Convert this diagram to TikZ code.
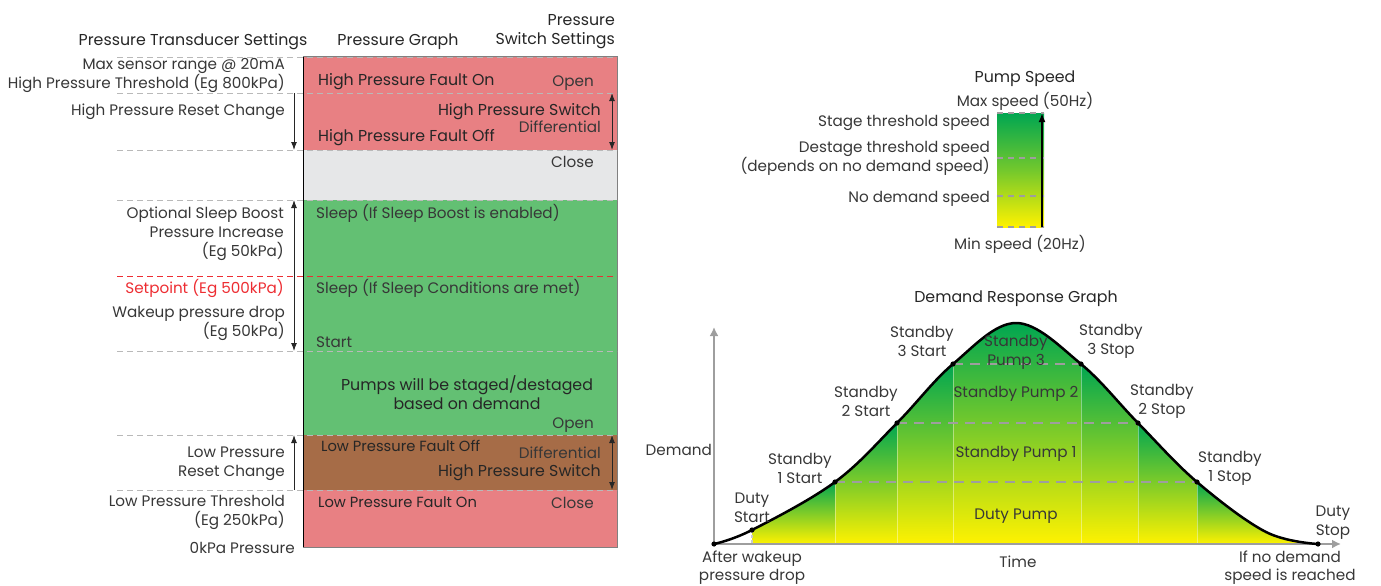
\documentclass[tikz,border=0pt]{standalone}
\usepackage{fontspec}
\setmainfont{Poppins}
\usetikzlibrary{arrows.meta,positioning,calc}
\definecolor{hifault}{RGB}{232,128,131}
\definecolor{shutgray}{RGB}{230,231,232}
\definecolor{runok}{RGB}{99,192,115}
\definecolor{lofault}{RGB}{166,108,71}
\definecolor{pgreen}{RGB}{0,166,81}
\definecolor{pyellow}{RGB}{255,242,0}
\definecolor{ink}{RGB}{55,55,55}
\definecolor{setred}{RGB}{237,45,50}
\definecolor{axgray}{RGB}{158,158,158}

\begin{document}
\begin{tikzpicture}[x=1pt,y=-1pt,
  >={Latex[length=8pt,width=6pt]},
  txt/.style={font=\fontsize{15.2}{19}\selectfont,text=ink,inner sep=0pt,yshift=-2.5pt},
  bartxt/.style={txt,text=black!85,font=\fontsize{15.8}{19}\selectfont},
  lowtxt/.style={bartxt,font=\fontsize{14.7}{18}\selectfont},
  lvl/.style={gray!55,dash pattern=on 6pt off 4pt,line width=0.8pt},
  rng/.style={line width=1pt,black!85},
  spd/.style={axgray,dash pattern=on 6pt off 5pt,line width=2.5pt},
  stage/.style={axgray,dash pattern=on 10pt off 7pt,line width=2.5pt},
  band/.style={top color=pgreen,bottom color=pyellow,draw=none},
  pt/.style={fill=black,draw=none}]

\useasboundingbox (0,0) rectangle (1381,586);

% headers
\node[bartxt] (tdh) at (193,39) {Pressure Transducer Settings};
\node[bartxt] (pgh) at (398,39) {Pressure Graph};
\node[bartxt,anchor=east,align=right] (swh) at (615,29)
  {Pressure\\Switch Settings};

% pressure bar
\fill[hifault] (303,57) rectangle (617,150);
\fill[shutgray] (303,150) rectangle (617,200);
\fill[runok] (303,200) rectangle (617,435);
\fill[lofault] (303,435) rectangle (617,490);
\fill[hifault] (303,490) rectangle (617,547);
\draw[gray,line width=1pt] (303,57) -- (617,57) -- (617,547) -- (303,547);
\draw[black,line width=1pt] (303,57) -- (303,547);

% levels
\foreach \y in {57,93,150,200,351,435,490}{
  \draw[lvl] (117,\y) -- (617,\y);}
\draw[lvl,setred,line width=1pt] (117,276) -- (617,276);

% ranges
\coordinate (hrT) at (294,93);  \coordinate (hrB) at (294,150);
\coordinate (hsT) at (612,93);  \coordinate (hsB) at (612,150);
\coordinate (slT) at (294,200); \coordinate (slB) at (294,351);
\coordinate (lrT) at (294,435); \coordinate (lrB) at (294,490);
\coordinate (lsT) at (612,435); \coordinate (lsB) at (612,490);
\draw[rng,->] (hrT) -- (hrB);
\draw[rng,<->] (hsT) -- (hsB);
\draw[rng,<->] (slT) -- (slB);
\draw[rng,->] (lrB) -- (lrT);
\draw[rng,<->] (lsT) -- (lsB);

% transducer labels
\node[txt,anchor=east,align=right] (maxr) at (285,73) {Max sensor range @ 20mA\\High Pressure Threshold (Eg 800kPa)};
\node[txt,anchor=mid east] (hpr) at (285,110) {High Pressure Reset Change};
\node[txt,anchor=east,align=right] (boost) at (284,231) {Optional Sleep Boost\\Pressure Increase\\(Eg 50kPa)};
\node[txt,anchor=mid east,text=setred] (setp) at (284,288) {Setpoint (Eg 500kPa)};
\node[txt,anchor=east,align=right] (wake) at (285,321) {Wakeup pressure drop\\(Eg 50kPa)};
\node[txt,anchor=east,align=right] (lpr) at (285,461) {Low Pressure\\Reset Change};
\node[txt,anchor=east,align=right] (lpt) at (285,510) {Low Pressure Threshold\\(Eg 250kPa)};
\node[txt,anchor=mid east] (zero) at (295,548) {0kPa Pressure};

% bar labels
\node[bartxt,anchor=mid west] (hfon) at (318,80) {High Pressure Fault On};
\node[txt,anchor=mid east] (op1) at (594,81) {Open};
\node[bartxt,anchor=mid east] (hsw1) at (601,110) {High Pressure Switch};
\node[txt,anchor=mid east] (df1) at (601,127) {Differential};
\node[bartxt,anchor=mid west] (hfoff) at (318,136) {High Pressure Fault Off};
\node[txt,anchor=mid east] (cl1) at (594,162) {Close};
\node[txt,anchor=mid west] (slp1) at (316,213) {Sleep (If Sleep Boost is enabled)};
\node[txt,anchor=mid west] (slp2) at (316,288) {Sleep (If Sleep Conditions are met)};
\node[txt,anchor=mid west] (strt) at (316,342) {Start};
\node[bartxt,align=center] (stg) at (467,390) {Pumps will be staged/destaged\\based on demand};
\node[txt,anchor=mid east] (op2) at (594,423) {Open};
\node[lowtxt,anchor=mid west] (lfoff) at (321,446) {Low Pressure Fault Off};
\node[txt,anchor=mid east] (df2) at (601,453) {Differential};
\node[bartxt,anchor=mid east] (hsw2) at (601,471) {High Pressure Switch};
\node[lowtxt,anchor=mid west] (lfon) at (318,502) {Low Pressure Fault On};
\node[txt,anchor=mid east] (cl2) at (594,503) {Close};

% pump speed
\node[bartxt] (psh) at (1025,76) {Pump Speed};
\node[txt] (maxs) at (1025,99) {Max speed (50Hz)};
\shade[top color=pgreen,bottom color=pyellow,middle color=pgreen!55!pyellow]
  (997,113) rectangle (1044,227);
\foreach \y in {113,158,196,227}{
  \draw[spd] (997,\y) -- (1044,\y);}
\coordinate (spB) at (1042,227); \coordinate (spT) at (1042,113);
\draw[black,line width=2pt,-{Latex[length=9pt,width=7pt]}] (spB) -- (spT);
\node[txt,anchor=mid east] (stth) at (990,121) {Stage threshold speed};
\node[txt,anchor=east,align=right] (dsth) at (990,156) {Destage threshold speed\\(depends on no demand speed)};
\node[txt,anchor=mid east] (nds) at (990,197) {No demand speed};
\node[txt] (mins) at (1020,242) {Min speed (20Hz)};

% demand response graph
\node[bartxt] (drh) at (1016,296) {Demand Response Graph};
\coordinate (o) at (714,544);
\coordinate (ds) at (752,530);
\coordinate (s1a) at (835,482);
\coordinate (s2a) at (897,423);
\coordinate (s3a) at (953,364);
\coordinate (pk) at (1016,323);
\coordinate (s3b) at (1081,364);
\coordinate (s2b) at (1138,423);
\coordinate (s1b) at (1197,482);
\coordinate (tl) at (1266,532);
\coordinate (de) at (1318,544);

\begin{scope}
  \clip plot[smooth,tension=0.6] coordinates {(o) (ds) (s1a) (s2a) (s3a) (pk) (s3b) (s2b) (s1b) (tl) (de)} -- cycle;
  \foreach \xa/\xb/\yt in {752/835/482,835/897/423,897/953/364,953/1081/323,
                           1081/1138/364,1138/1197/423,1197/1318/482}{
    \shade[band] (\xa,\yt) rectangle (\xb,544);}
  \foreach \xv in {835,897,953,1081,1138,1197}{
    \draw[white,opacity=0.4,line width=0.8pt] (\xv,544) -- (\xv,300);}
\end{scope}
\draw[stage] (s1a) -- (s1b);
\draw[stage] (s2a) -- (s2b);
\draw[stage] (s3a) -- (s3b);
\coordinate (dsb) at (752,544);
\draw[axgray!55,dash pattern=on 3pt off 2pt,line width=1.5pt] (ds) -- (dsb);

% axes
\coordinate (yax) at (714,327); \coordinate (xax) at (1341,544);
\draw[axgray,line width=2.5pt,-{Latex[length=9pt,width=9pt]}] (o) -- (yax);
\draw[axgray,line width=2.5pt,-{Latex[length=9pt,width=9pt]}] (o) -- (xax);

\draw[black,line width=2.5pt] plot[smooth,tension=0.6] coordinates {(o) (ds) (s1a) (s2a) (s3a) (pk) (s3b) (s2b) (s1b) (tl) (de)};
\foreach \p in {o,ds,s1a,s2a,s3a,s3b,s2b,s1b,de}{
  \fill[pt] (\p) circle (2.6pt);}

% graph labels
\node[txt,align=center] (sp3) at (1016,350) {Standby\\Pump 3};
\node[txt] (sp2) at (1016,391) {Standby Pump 2};
\node[txt] (sp1) at (1016,451) {Standby Pump 1};
\node[txt] (dp) at (1016,514) {Duty Pump};
\node[txt,align=center] (l3a) at (922,339) {Standby\\3 Start};
\node[txt,align=center] (l2a) at (866,399) {Standby\\2 Start};
\node[txt,align=center] (l1a) at (800,466) {Standby\\1 Start};
\node[txt,align=center] (lda) at (752,505) {Duty\\Start};
\node[txt,align=center] (l3b) at (1111,339) {Standby\\3 Stop};
\node[txt,align=center] (l2b) at (1162,399) {Standby\\2 Stop};
\node[txt,align=center] (l1b) at (1230,466) {Standby\\1 Stop};
\node[txt,align=center] (ldb) at (1333,520) {Duty\\Stop};
\node[txt,anchor=mid east] (dem) at (712,450) {Demand};
\node[txt] (tim) at (1018,559) {Time};
\node[txt,align=center,font=\fontsize{15.2}{17.5}\selectfont] (aft) at (752,565) {After wakeup\\pressure drop};
\node[txt,align=center,font=\fontsize{15.2}{17.5}\selectfont] (ifn) at (1290,565) {If no demand\\speed is reached};

\end{tikzpicture}
\end{document}
